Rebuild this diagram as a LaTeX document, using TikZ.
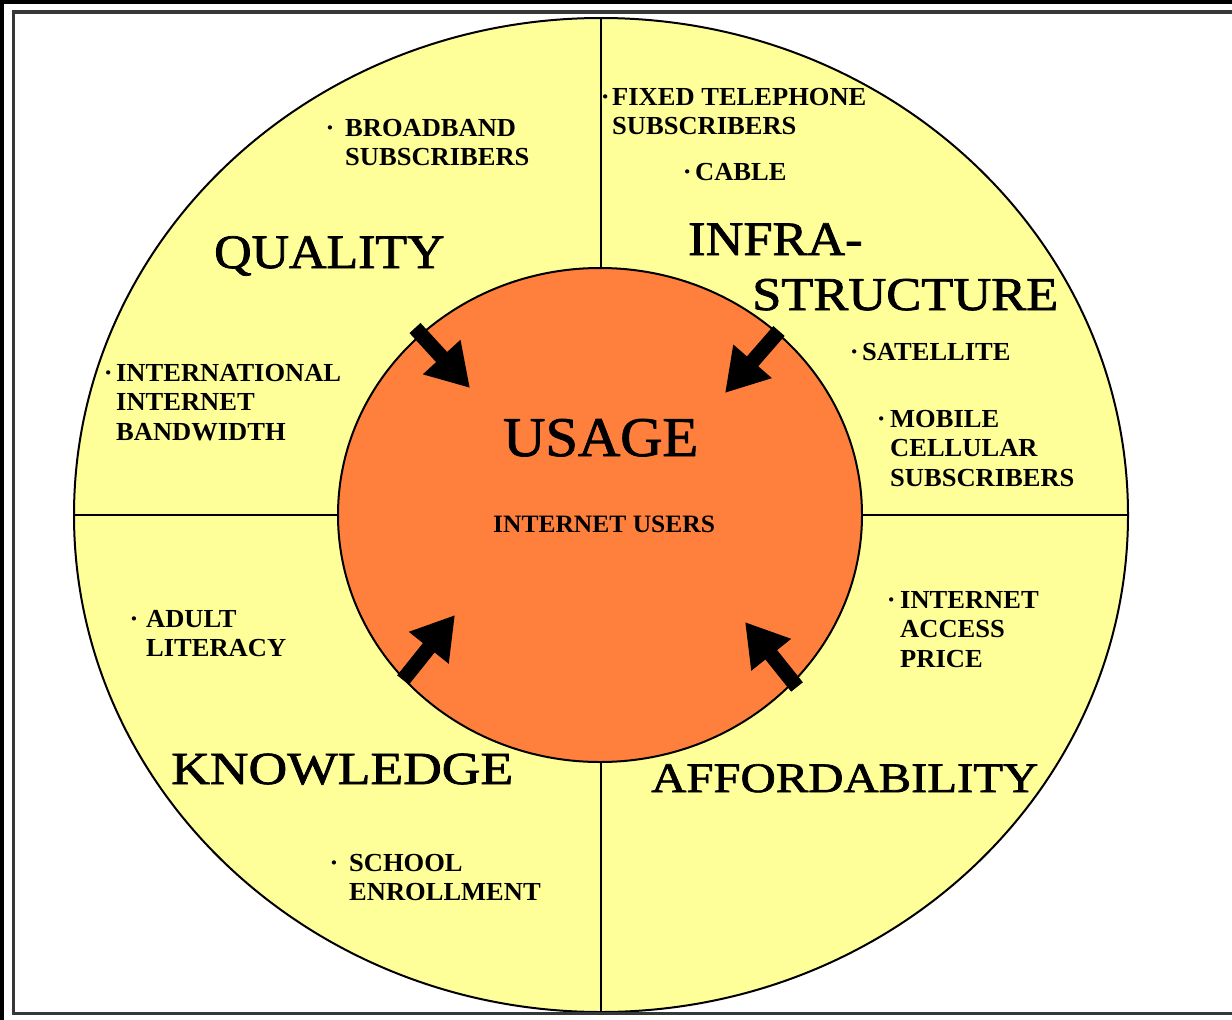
\documentclass[tikz,border=0pt]{standalone}
\usepackage{fontspec}
\setmainfont{Liberation Serif}
\newfontfamily\heavyserif[RawFeature={embolden=1.5}]{Liberation Serif}
\usetikzlibrary{arrows.meta,shapes.geometric}
\definecolor{quadyellow}{RGB}{255,255,153}
\definecolor{usageorange}{RGB}{255,128,60}
\definecolor{framegray}{RGB}{55,55,55}
\newcommand{\qbul}[1]{\llap{·\hspace{#1pt}}}
\newcommand{\qstack}[1]{\begin{tabular}[t]{@{}l@{}}#1\end{tabular}}
\tikzset{
  biglabel/.style={anchor=base west, inner sep=0pt, transform shape},
  smalllabel/.style={anchor=base west, inner sep=0pt, xscale=1.02, transform shape,
    font=\bfseries\fontsize{26}{29.5}\selectfont},
  inarrow/.style={line width=15pt, -{Triangle[length=42pt,width=48pt]}},
  divider/.style={line width=1.6pt, black},
}
\begin{document}
\begin{tikzpicture}[x=1pt,y=-1pt]
\useasboundingbox (0,0) rectangle (1232,1020);
\fill[white] (0,0) rectangle (1232,1020);
% outer frame
\fill[black] (0,0) rectangle (1232,4);
\fill[black] (0,0) rectangle (4,1020);
\draw[framegray, line width=3.5pt] (1232,12) -- (13.5,12) -- (13.5,1013.5) -- (1232,1013.5);
% outer ring with quadrants
\begin{scope}
  \clip (15.5,14) rectangle (1232,1011.8);
  \node[ellipse, draw=black, fill=quadyellow, line width=2pt, inner sep=0pt,
        minimum width=1054pt, minimum height=994pt] (outer) at (601,515) {};
  \draw[divider] (outer.north) -- (outer.south);
  \draw[divider] (outer.west) -- (outer.east);
\end{scope}
% inner usage disc
\node[ellipse, draw=black, fill=usageorange, line width=2pt, inner sep=0pt,
      minimum width=524pt, minimum height=494pt] (usage) at (600,515) {};
% arrows
\coordinate (a1s) at (415,328); \coordinate (a1e) at (470,388);
\coordinate (a2s) at (779,331); \coordinate (a2e) at (725,393);
\coordinate (a3s) at (403,680); \coordinate (a3e) at (455,615);
\coordinate (a4s) at (797,687); \coordinate (a4e) at (745,622);
\draw[inarrow] (a1s) -- (a1e);
\draw[inarrow] (a2s) -- (a2e);
\draw[inarrow] (a3s) -- (a3e);
\draw[inarrow] (a4s) -- (a4e);
% big labels
\node[biglabel, xscale=1.08, font=\heavyserif\fontsize{48}{50}\selectfont] (quality) at (214,268) {QUALITY};
\node[biglabel, xscale=1.09, font=\heavyserif\fontsize{48}{50}\selectfont] (infra) at (688,255) {INFRA-};
\node[biglabel, xscale=1.116, font=\heavyserif\fontsize{47}{50}\selectfont] (structure) at (752,310) {STRUCTURE};
\node[biglabel, xscale=1.164, font=\heavyserif\fontsize{46}{50}\selectfont] (knowledge) at (171,784) {KNOWLEDGE};
\node[biglabel, xscale=1.16, font=\heavyserif\fontsize{42}{50}\selectfont] (afford) at (651,792) {AFFORDABILITY};
\node[biglabel, xscale=1.045, font=\heavyserif\fontsize{56}{60}\selectfont] (usagetitle) at (503,456) {USAGE};
\node[biglabel, xscale=1.02, font=\bfseries\fontsize{25}{28}\selectfont] (users) at (493,532) {INTERNET USERS};
% small labels
\node[smalllabel] (broadband) at (345,136) {\qstack{\qbul{10.5}BROADBAND\\SUBSCRIBERS}};
\node[smalllabel] (fixed) at (612,105) {\qstack{\qbul{2.5}FIXED TELEPHONE\\SUBSCRIBERS}};
\node[smalllabel] (cable) at (695,180) {\qstack{\qbul{3.5}CABLE}};
\node[smalllabel] (satellite) at (862,360) {\qstack{\qbul{3.5}SATELLITE}};
\node[smalllabel] (mobile) at (890,427) {\qstack{\qbul{4.5}MOBILE\\CELLULAR\\SUBSCRIBERS}};
\node[smalllabel] (price) at (900,608) {\qstack{\qbul{4.5}INTERNET\\ACCESS\\PRICE}};
\node[smalllabel] (bandwidth) at (116,381) {\qstack{\qbul{3.5}INTERNATIONAL\\INTERNET\\BANDWIDTH}};
\node[smalllabel] (literacy) at (146,627) {\qstack{\qbul{7.5}ADULT\\LITERACY}};
\node[smalllabel] (school) at (349,871) {\qstack{\qbul{10.5}SCHOOL\\ENROLLMENT}};
\end{tikzpicture}
\end{document}
